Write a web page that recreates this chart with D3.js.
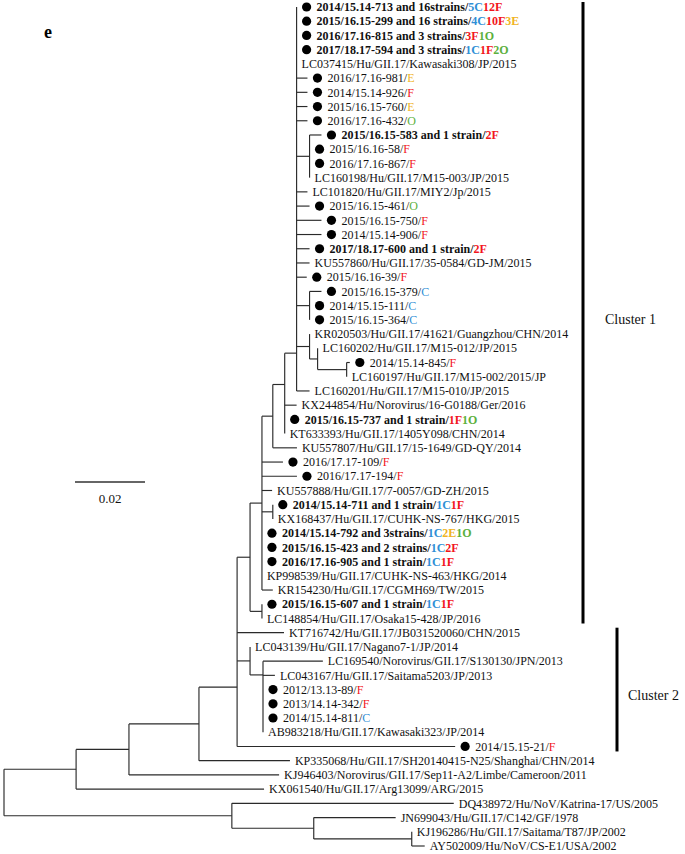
<!DOCTYPE html>
<html><head><meta charset="utf-8">
<script src="https://cdn.jsdelivr.net/npm/d3@7"></script>
<style>body{margin:0;background:#fff}</style>
</head><body><svg id="c" width="685" height="854"></svg>
<script>
// Tree topology and branch lengths (substitutions/site). Leaves are numbered by row.
// Internal labels: d / u tell how a polytomy was resolved (ladder down / ladder up).
const treeNewick = "((((((((((1:0,2:0,3:0,4:0,5:0,6:0.0031,7:0.0031,8:0.0031,9:0.0031,(10:0.0034,11:0,12:0,13:0):0.0037,14:0.0031,15:0.0037,16:0.0071,17:0.0071,18:0.0037,19:0.0037,20:0.0029,(21:0.0034,22:0,23:0):0.0037,(24:0,(25:0,(26:0.0009,27:0):0.0083):0.0023):0.0037,28:0.0037)d:0.0034,29:0.0034,30:0,31:0)u:0.0034,32:0.0069):0.0031,33:0.006,34:0.01,35:0.0029,(36:0,37:0):0.0031,38:0,39:0,40:0,41:0,42:0.0031):0.0034,(43:0,44:0):0.0034):0.0037,45:0.0134,(46:0,(47:0.0171,48:0.0034,49:0,50:0,51:0,52:0)u:0.0037):0.0037,53:0.0623)d:0.0109,54:0.026):0.02,55:0.0429):0.0151,56:0.0537):0.0206,(57:0.0634,(58:0.0234,(59:0,60:0.0037):0.028):0.0234):0.0651);";

const leafLabels = [
"2014/15.14-713 and 16strains","2015/16.15-299 and 16 strains","2016/17.16-815 and 3 strains","2017/18.17-594 and 3 strains",
"LC037415/Hu/GII.17/Kawasaki308/JP/2015","2016/17.16-981","2014/15.14-926","2015/16.15-760","2016/17.16-432",
"2015/16.15-583 and 1 strain","2015/16.16-58","2016/17.16-867","LC160198/Hu/GII.17/M15-003/JP/2015",
"LC101820/Hu/GII.17/MIY2/Jp/2015","2015/16.15-461","2015/16.15-750","2014/15.14-906","2017/18.17-600 and 1 strain",
"KU557860/Hu/GII.17/35-0584/GD-JM/2015","2015/16.16-39","2015/16.15-379","2014/15.15-111","2015/16.15-364",
"KR020503/Hu/GII.17/41621/Guangzhou/CHN/2014","LC160202/Hu/GII.17/M15-012/JP/2015","2014/15.14-845",
"LC160197/Hu/GII.17/M15-002/2015/JP","LC160201/Hu/GII.17/M15-010/JP/2015","KX244854/Hu/Norovirus/16-G0188/Ger/2016",
"2015/16.15-737 and 1 strain","KT633393/Hu/GII.17/1405Y098/CHN/2014","KU557807/Hu/GII.17/15-1649/GD-QY/2014",
"2016/17.17-109","2016/17.17-194","KU557888/Hu/GII.17/7-0057/GD-ZH/2015","2014/15.14-711 and 1 strain",
"KX168437/Hu/GII.17/CUHK-NS-767/HKG/2015","2014/15.14-792 and 3strains","2015/16.15-423 and 2 strains",
"2016/17.16-905 and 1 strain","KP998539/Hu/GII.17/CUHK-NS-463/HKG/2014","KR154230/Hu/GII.17/CGMH69/TW/2015",
"2015/16.15-607 and 1 strain","LC148854/Hu/GII.17/Osaka15-428/JP/2016","KT716742/Hu/GII.17/JB031520060/CHN/2015",
"LC043139/Hu/GII.17/Nagano7-1/JP/2014","LC169540/Norovirus/GII.17/S130130/JPN/2013","LC043167/Hu/GII.17/Saitama5203/JP/2013",
"2012/13.13-89","2013/14.14-342","2014/15.14-811","AB983218/Hu/GII.17/Kawasaki323/JP/2014","2014/15.15-21",
"KP335068/Hu/GII.17/SH20140415-N25/Shanghai/CHN/2014","KJ946403/Norovirus/GII.17/Sep11-A2/Limbe/Cameroon/2011",
"KX061540/Hu/GII.17/Arg13099/ARG/2015","DQ438972/Hu/NoV/Katrina-17/US/2005","JN699043/Hu/GII.17/C142/GF/1978",
"KJ196286/Hu/GII.17/Saitama/T87/JP/2002","AY502009/Hu/NoV/CS-E1/USA/2002"
];
const leafTags = [
"5C12F","4C10F3E","3F1O","1C1F2O","","E","F","E","O","2F","F","F","","","O","F","F","2F","","F","C","C","C",
"","","F","","","","1F1O","","","F","F","","1C1F","","1C2E1O","1C2F","1C1F","","","1C1F","","","","","",
"F","F","C","","F","","","","","","",""
];
const tagColors = {C:"#2f8fd6", F:"#f2151c", E:"#f0b323", O:"#5cb03c"};
const clusters = [{name:"Cluster 1", first:1, last:44}, {name:"Cluster 2", first:45, last:53}];
const scaleBarValue = 0.02;
const panelLabel = "e";

function parseNewick(s){
  let i = 0;
  function node(){
    const n = {children:[]};
    if (s[i] === '('){
      i++;
      while (true){
        n.children.push(node());
        if (s[i] === ','){ i++; continue; }
        break;
      }
      i++; // ')'
    }
    let name = '';
    while (i < s.length && !',():;'.includes(s[i])) name += s[i++];
    n.name = name;
    n.length = 0;
    if (s[i] === ':'){
      i++; let len = '';
      while (i < s.length && !',();'.includes(s[i])) len += s[i++];
      n.length = +len;
    }
    return n;
  }
  return node();
}

const FONT = "'Liberation Serif','Times New Roman',serif";
const svg = d3.select("#c");
const root = d3.hierarchy(parseNewick(treeNewick), d => d.children.length ? d.children : null);
root.eachBefore(n => { n.dist = n.parent ? n.parent.dist + n.data.length : 0; });

const x = d3.scaleLinear().domain([0, 0.1]).range([4, 354]);
const y = d3.scaleLinear().domain([1, leafLabels.length]).range([7, 846]);

root.eachAfter(n => {
  if (!n.children) { n.row = +n.data.name; n.yy = y(n.row); return; }
  const ys = n.children.map(c => c.yy);
  if (n.data.name === 'd') n.yy = ys.reduce((a, b) => (a + b) / 2);
  else if (n.data.name === 'u') n.yy = ys.reduceRight((a, b) => (a + b) / 2);
  else n.yy = (ys[0] + ys[ys.length - 1]) / 2;
});

const g = svg.append("g").attr("stroke", "#2a2a2a").attr("stroke-width", 1.15).attr("fill", "none");
root.descendants().forEach(n => {
  if (n.parent && n.data.length > 0)
    g.append("line").attr("x1", x(n.parent.dist)).attr("x2", x(n.dist)).attr("y1", n.yy).attr("y2", n.yy);
  if (n.children){
    const ys = n.children.map(c => c.yy);
    g.append("line").attr("x1", x(n.dist)).attr("x2", x(n.dist))
      .attr("y1", d3.min(ys)).attr("y2", d3.max(ys));
  }
});

const leaves = root.leaves();
const lab = svg.append("g").attr("font-family", FONT).attr("font-size", 12);
leaves.forEach(n => {
  const idx = n.row - 1;
  const label = leafLabels[idx], tag = leafTags[idx];
  const hasDot = tag !== "";
  const bold = label.includes(" and ");
  const x0 = x(n.dist);
  if (hasDot) lab.append("circle").attr("cx", x0 + 10).attr("cy", n.yy).attr("r", 4.6).attr("fill", "#000");
  const t = lab.append("text").attr("x", x0 + (hasDot ? 20 : 5)).attr("y", n.yy).attr("dy", "0.35em")
    .attr("fill", "#111").attr("font-weight", bold ? "bold" : "normal");
  t.append("tspan").text(label);
  if (hasDot){
    t.append("tspan").text("/");
    const re = /(\d*)([CFEO])/g; let m;
    while ((m = re.exec(tag)) !== null)
      t.append("tspan").attr("fill", tagColors[m[2]]).text(m[1] + m[2]);
  }
});

// cluster bars
const barX = [583, 617], labelX = [605, 628];
clusters.forEach((c, k) => {
  const y1 = y(c.first) - 5, y2 = y(c.last) + 5;
  svg.append("line").attr("x1", barX[k]).attr("x2", barX[k]).attr("y1", y1).attr("y2", y2)
    .attr("stroke", "#000").attr("stroke-width", 3);
  svg.append("text").attr("x", labelX[k]).attr("y", (y1 + y2) / 2 + 6).attr("dy", "0.35em")
    .attr("font-family", FONT).attr("font-size", 14).attr("fill", "#111").text(c.name);
});

// scale bar
const sbX = 75, sbY = 482;
svg.append("line").attr("x1", sbX).attr("x2", sbX + x(scaleBarValue) - x(0)).attr("y1", sbY).attr("y2", sbY)
  .attr("stroke", "#333").attr("stroke-width", 1.3);
svg.append("text").attr("x", sbX + (x(scaleBarValue) - x(0)) / 2).attr("y", sbY + 16).attr("dy", "0.35em")
  .attr("text-anchor", "middle").attr("font-family", FONT).attr("font-size", 13).attr("fill", "#111")
  .text(d3.format(".2f")(scaleBarValue));

svg.append("text").attr("x", 44).attr("y", 38).attr("font-family", FONT).attr("font-size", 18)
  .attr("font-weight", "bold").attr("fill", "#000").text(panelLabel);
</script></body></html>
